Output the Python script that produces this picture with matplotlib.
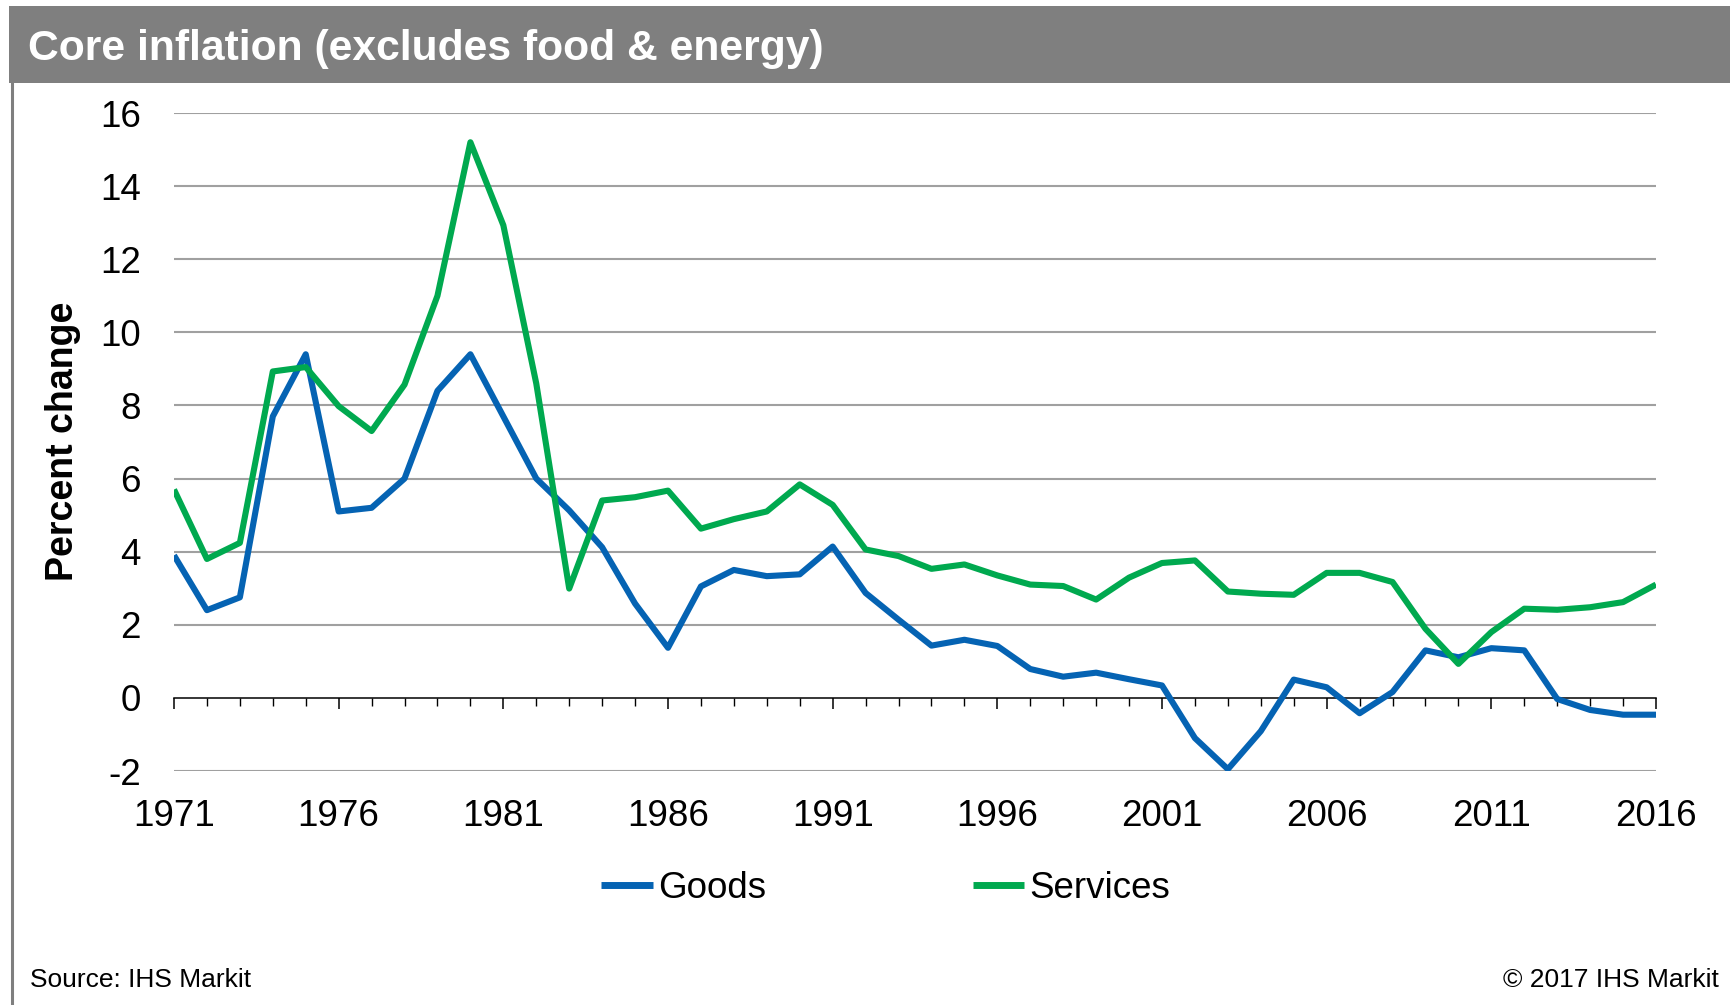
import numpy as np
import matplotlib
matplotlib.use("Agg")
import matplotlib.pyplot as plt
from matplotlib.patches import Rectangle
from matplotlib.lines import Line2D
from matplotlib.ticker import MultipleLocator

plt.rcParams['font.family'] = ['Liberation Sans', 'DejaVu Sans']
plt.rcParams['axes.unicode_minus'] = False

# annual % change, core goods vs core services
years = list(range(1971, 2017))
goods = [3.9, 2.4, 2.75, 7.7, 9.4, 5.1, 5.2, 6.0, 8.4, 9.4,
         7.7, 6.0, 5.13, 4.12, 2.58, 1.37, 3.05, 3.5, 3.33, 3.38,
         4.14, 2.87, 2.14, 1.43, 1.59, 1.42, 0.79, 0.58, 0.69, 0.51,
         0.34, -1.1, -1.95, -0.91, 0.5, 0.29, -0.42, 0.16, 1.3, 1.11,
         1.36, 1.3, -0.03, -0.33, -0.46, -0.46]
services = [5.7, 3.8, 4.24, 8.93, 9.05, 7.98, 7.3, 8.57, 11.0, 15.2,
            12.93, 8.6, 2.99, 5.4, 5.49, 5.67, 4.63, 4.89, 5.1, 5.84,
            5.28, 4.06, 3.88, 3.53, 3.65, 3.35, 3.1, 3.06, 2.69, 3.29,
            3.69, 3.76, 2.91, 2.85, 2.82, 3.42, 3.42, 3.17, 1.89, 0.93,
            1.8, 2.44, 2.41, 2.48, 2.62, 3.1]
year_labels = list(range(1971, 2017, 5))
y_ticks = list(range(-2, 17, 2))

BLUE = '#0563b3'
GREEN = '#00a94f'
BAR_GRAY = '#7f7f7f'
GRID_GRAY = '#a0a0a0'

W, H = 1730, 1005
fig = plt.figure(figsize=(W / 100, H / 100), dpi=100)

# header bar + left frame line
fig.patches.append(Rectangle((9 / W, 1 - 83 / H), 1, 77 / H, transform=fig.transFigure,
                             facecolor=BAR_GRAY, edgecolor='none', zorder=0))
fig.lines.append(Line2D([11.5 / W, 11.5 / W], [0, 1 - 83 / H], transform=fig.transFigure,
                        color=BAR_GRAY, lw=2.2))
fig.text(28 / W, 1 - 49 / H, 'Core inflation (excludes food & energy)', color='white',
         fontsize=30.7, fontweight='bold', ha='left', va='center')

ax = fig.add_axes([174 / W, 1 - 771 / H, 1482 / W, 658 / H])
ax.set_xlim(1971, 2016)
ax.set_ylim(-2, 16)

for v in y_ticks:
    if v != 0:
        ax.axhline(v, color=GRID_GRAY, lw=1.5, zorder=1)

l_goods, = ax.plot(years, goods, color=BLUE, lw=4.4, solid_joinstyle='round',
                   solid_capstyle='butt', zorder=3, label='Goods')
l_serv, = ax.plot(years, services, color=GREEN, lw=4.4, solid_joinstyle='round',
                  solid_capstyle='butt', zorder=4, label='Services')

for s in ['top', 'right', 'left']:
    ax.spines[s].set_visible(False)
ax.spines['bottom'].set_position(('data', 0))
ax.spines['bottom'].set_color('black')
ax.spines['bottom'].set_linewidth(1.1)
ax.spines['bottom'].set_zorder(2)

ax.set_xticks(year_labels)
ax.xaxis.set_minor_locator(MultipleLocator(1))
ax.tick_params(axis='x', which='major', direction='out', length=8, width=1.1,
               labelbottom=False)
ax.tick_params(axis='x', which='minor', direction='out', length=5.5, width=1.0)

ax.set_yticks(y_ticks)
ax.tick_params(axis='y', length=0, pad=24, labelsize=26.5)

# year labels sit under the -2 line
sec = ax.secondary_xaxis(0)
sec.set_xticks(year_labels)
sec.tick_params(length=0, pad=20, labelsize=26.5)
sec.spines['bottom'].set_visible(False)

fig.text(63 / W, 1 - 441 / H, 'Percent change', rotation=90, fontsize=27,
         fontweight='bold', ha='center', va='center')

leg = fig.legend(handles=[l_goods, l_serv], loc='center',
                 bbox_to_anchor=(886 / W, 1 - 888 / H), ncol=2, frameon=False,
                 fontsize=26.5, handlelength=1.4, handletextpad=0.15,
                 columnspacing=5.6, borderpad=0, borderaxespad=0)
for h in leg.legend_handles:
    h.set_linewidth(5)

fig.text(30 / W, 1 - 980 / H, 'Source: IHS Markit', fontsize=19, ha='left', va='center')
fig.text(1719 / W, 1 - 980 / H, '\u00a9 2017 IHS Markit', fontsize=19, ha='right', va='center')

fig.savefig('out.png', dpi=100)
